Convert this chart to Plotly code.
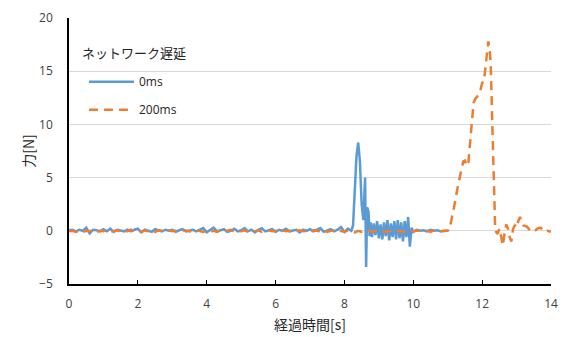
import plotly.graph_objects as go

# ---- data: 0ms (blue) ----
t_0ms = [0.0, 0.1, 0.2, 0.3, 0.4, 0.5, 0.6, 0.7, 0.8, 0.9,
         1.0, 1.1, 1.2, 1.3, 1.4, 1.5, 1.6, 1.7, 1.8, 1.9,
         2.0, 2.1, 2.2, 2.3, 2.4, 2.5, 2.6, 2.7, 2.8, 2.9,
         3.0, 3.1, 3.2, 3.3, 3.4, 3.5, 3.6, 3.7, 3.8, 3.9,
         4.0, 4.1, 4.2, 4.3, 4.4, 4.5, 4.6, 4.7, 4.8, 4.9,
         5.0, 5.1, 5.2, 5.3, 5.4, 5.5, 5.6, 5.7, 5.8, 5.9,
         6.0, 6.1, 6.2, 6.3, 6.4, 6.5, 6.6, 6.7, 6.8, 6.9,
         7.0, 7.1, 7.2, 7.3, 7.4, 7.5, 7.6, 7.7, 7.8, 7.9,
         8.0, 8.1, 8.2, 8.25, 8.3, 8.35, 8.4, 8.45, 8.5, 8.55,
         8.6, 8.63, 8.66, 8.7, 8.73, 8.76, 8.8, 8.85, 8.9, 8.95,
         9.0, 9.05, 9.1, 9.15, 9.2, 9.25, 9.3, 9.35, 9.4, 9.45,
         9.5, 9.55, 9.6, 9.65, 9.7, 9.75, 9.8, 9.85, 9.9, 9.95,
         10.0, 10.1, 10.2, 10.3, 10.4, 10.5, 10.6, 10.7, 10.8, 10.9, 11.0]
f_0ms = [0.05, 0.1, -0.05, 0.1, 0.0, 0.3, -0.25, 0.1, 0.05, -0.05,
         0.15, -0.05, 0.2, -0.1, 0.1, 0.0, -0.05, 0.1, -0.05, 0.1,
         0.2, -0.15, 0.1, 0.0, -0.1, 0.15, 0.05, -0.05, 0.1, 0.0,
         0.1, -0.1, 0.05, 0.15, -0.05, 0.0, 0.1, -0.05, 0.1, 0.25,
         -0.15, 0.1, 0.3, -0.05, 0.05, 0.15, -0.1, 0.0, 0.2, -0.05,
         0.05, 0.25, -0.05, 0.1, -0.15, 0.1, 0.25, -0.05, 0.05, 0.15,
         -0.1, 0.1, 0.0, 0.2, -0.05, 0.05, 0.1, -0.15, 0.1, 0.0,
         0.15, -0.05, 0.1, 0.25, -0.1, 0.05, 0.15, -0.05, 0.1, 0.35,
         -0.1, 0.2, 0.0, 0.5, 3.5, 7.0, 8.3, 6.5, 2.5, 1.0,
         5.0, -3.4, 2.2, 1.8, -0.5, 0.8, -0.6, 0.7, -0.4, 0.9,
         -0.7, 0.6, -0.8, 0.8, -0.5, 1.0, -0.9, 0.7, -0.6, 0.9,
         -0.8, 1.0, -0.7, 0.8, -1.0, 0.9, -0.6, 1.3, -1.5, 0.3,
         -0.1, 0.1, 0.0, 0.05, -0.05, 0.1, 0.0, 0.05, -0.05, 0.0, 0.0]

# ---- data: 200ms (orange) ----
t_200ms = [0.0, 0.1, 0.2, 0.3, 0.4, 0.5, 0.6, 0.7, 0.8, 0.9,
           1.0, 1.1, 1.2, 1.3, 1.4, 1.5, 1.6, 1.7, 1.8, 1.9,
           2.0, 2.1, 2.2, 2.3, 2.4, 2.5, 2.6, 2.7, 2.8, 2.9,
           3.0, 3.1, 3.2, 3.3, 3.4, 3.5, 3.6, 3.7, 3.8, 3.9,
           4.0, 4.1, 4.2, 4.3, 4.4, 4.5, 4.6, 4.7, 4.8, 4.9,
           5.0, 5.1, 5.2, 5.3, 5.4, 5.5, 5.6, 5.7, 5.8, 5.9,
           6.0, 6.1, 6.2, 6.3, 6.4, 6.5, 6.6, 6.7, 6.8, 6.9,
           7.0, 7.1, 7.2, 7.3, 7.4, 7.5, 7.6, 7.7, 7.8, 7.9,
           8.0, 8.1, 8.2, 8.3, 8.4, 8.5, 8.6, 8.7, 8.8, 8.9,
           9.0, 9.1, 9.2, 9.3, 9.4, 9.5, 9.6, 9.7, 9.8, 9.9,
           10.0, 10.1, 10.2, 10.3, 10.4, 10.5, 10.6, 10.7, 10.8, 10.9,
           11.0, 11.05, 11.1, 11.2, 11.3, 11.4, 11.45, 11.5, 11.55, 11.6,
           11.65, 11.7, 11.75, 11.8, 11.85, 11.9, 11.95, 12.0, 12.05, 12.1,
           12.15, 12.18, 12.22, 12.25, 12.3, 12.35, 12.38, 12.45, 12.5, 12.55,
           12.6, 12.65, 12.7, 12.75, 12.8, 12.85, 12.9, 12.95, 13.0, 13.05,
           13.1, 13.15, 13.2, 13.3, 13.4, 13.5, 13.6, 13.7, 13.8, 13.9, 14.0]
f_200ms = [-0.05, 0.0, -0.1, 0.05, -0.1, 0.0, -0.05, 0.1, -0.1, 0.0,
           -0.05, 0.05, -0.1, 0.0, 0.05, -0.1, 0.0, -0.05, 0.1, -0.05,
           0.0, -0.1, 0.05, -0.05, 0.0, -0.1, 0.05, 0.0, -0.1, 0.05,
           -0.05, 0.0, -0.1, 0.05, 0.0, -0.05, -0.1, 0.05, 0.0, -0.1,
           0.05, -0.05, 0.0, -0.1, 0.05, -0.05, 0.0, 0.1, -0.1, 0.0,
           -0.05, 0.05, -0.1, 0.0, -0.05, 0.05, -0.1, 0.0, 0.05, -0.05,
           0.0, -0.1, 0.05, -0.05, 0.0, -0.1, 0.0, 0.05, -0.05, 0.0,
           -0.1, 0.05, 0.0, -0.05, 0.1, -0.1, 0.0, 0.05, -0.05, 0.0,
           -0.1, 0.05, -0.05, -0.15, 0.0, -0.1, -0.05, 0.05, -0.1, 0.0,
           -0.05, 0.05, -0.1, 0.0, 0.05, -0.05, 0.0, -0.1, 0.05, 0.0,
           -0.05, 0.0, 0.05, -0.05, 0.0, -0.1, 0.05, 0.0, -0.05, 0.0,
           0.0, 0.1, 0.8, 2.5, 4.3, 5.8, 6.5, 6.6, 6.1, 6.4,
           8.5, 10.5, 12.0, 12.4, 12.6, 12.8, 13.2, 13.9, 14.0, 15.5,
           17.5, 17.8, 17.0, 15.5, 9.5, 1.5, 0.0, -0.3, 0.2, -0.5,
           -1.4, -0.3, 0.6, 0.2, -0.6, -1.0, 0.2, 0.5, 0.3, 0.9,
           1.3, 0.8, 0.5, 0.4, 0.0, -0.1, 0.2, 0.3, -0.1, 0.0, -0.1]

series_names = ["0ms", "200ms"]
legend_title = "ネットワーク遅延"
x_title = "経過時間[s]"
y_title = "力[N]"

jp_font = "Noto Sans CJK JP, sans-serif"
num_font = "Open Sans, Liberation Sans, sans-serif"

fig = go.Figure()
fig.add_trace(go.Scatter(x=t_0ms, y=f_0ms, mode="lines", name=series_names[0],
                         legendgroup="a",
                         line=dict(color="#5B9BD5", width=2.5)))
fig.add_trace(go.Scatter(x=t_200ms, y=f_200ms, mode="lines", name=series_names[1],
                         legendgroup="b",
                         line=dict(color="#ED7D31", width=2.5, dash="9px,6px")))

fig.add_annotation(text=legend_title, xref="paper", yref="paper",
                   x=0.023, y=(284 - 52) / 266, xanchor="left", yanchor="middle",
                   showarrow=False,
                   font=dict(family=jp_font, size=13, color="#262626"))

fig.update_layout(
    width=573, height=337,
    margin=dict(l=69, r=22, t=18, b=53),
    paper_bgcolor="white", plot_bgcolor="white",
    font=dict(family=num_font, size=12, color="#404040"),
    showlegend=True,
    legend=dict(
        x=0.031, y=0.815, xanchor="left", yanchor="top",
        bgcolor="rgba(0,0,0,0)",
        font=dict(family=num_font, size=12, color="#262626"),
        tracegroupgap=9,
        itemwidth=45,
    ),
    xaxis=dict(
        range=[0, 14], dtick=2, tick0=0,
        showgrid=False, zeroline=False, automargin=False,
        showline=True, linecolor="black", linewidth=1.5,
        ticks="inside", ticklen=4, tickcolor="black",
        ticklabelstandoff=8,
        tickfont=dict(family=num_font, size=12, color="#404040"),
        title=dict(text=x_title, font=dict(family=jp_font, size=14, color="#262626"), standoff=9),
    ),
    yaxis=dict(
        range=[-5, 20], dtick=5, tick0=-5,
        showgrid=True, gridcolor="#D9D9D9", gridwidth=1.2,
        zeroline=False, automargin=False,
        showline=True, linecolor="black", linewidth=1.5,
        ticks="", ticklabelstandoff=12,
        tickfont=dict(family=num_font, size=12, color="#404040"),
        title=dict(text=y_title, font=dict(family=jp_font, size=14, color="#262626"), standoff=1),
    ),
)

fig.write_html("out.html", config={"displayModeBar": False},
               post_script="document.body.style.margin='0';")
